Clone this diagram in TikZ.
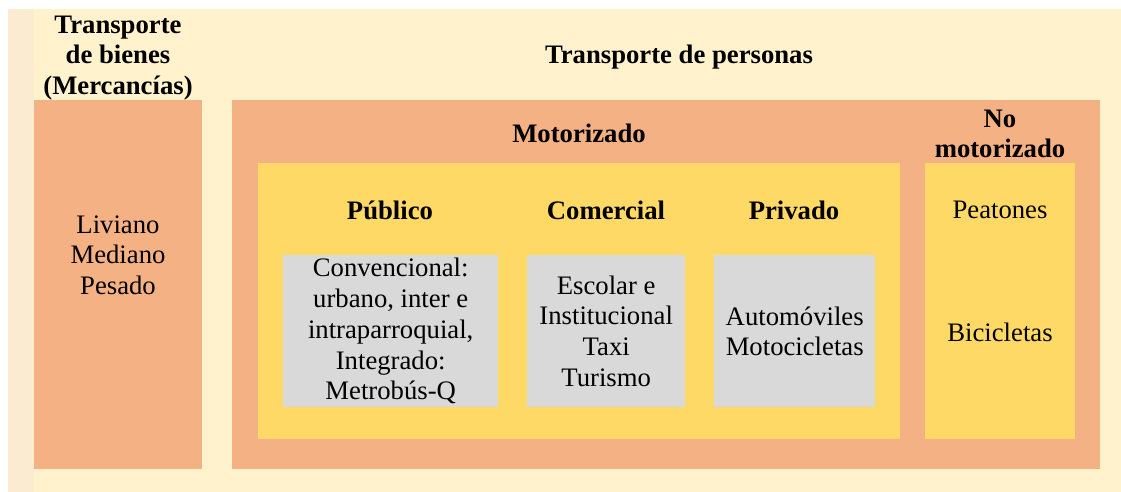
\documentclass[tikz,border=0pt]{standalone}
\usepackage{fontspec}
\setmainfont{Liberation Serif}
\definecolor{crema}{HTML}{FFF2CC}
\definecolor{cremaosc}{HTML}{FBEBD1}
\definecolor{naranja}{HTML}{F4B183}
\definecolor{amarillo}{HTML}{FFD966}
\definecolor{gris}{HTML}{D9D9D9}
\begin{document}
\begin{tikzpicture}[x=1pt,y=-1pt,
    caja/.style={inner sep=0pt,anchor=north west},
    txt/.style={align=center,inner sep=0pt,font=\fontsize{26.7}{30.7}\selectfont},
    tit/.style={txt,font=\fontsize{26.7}{30.7}\selectfont\bfseries}]
  \useasboundingbox (0,0) rectangle (1121,492);
  \fill[white] (0,0) rectangle (1121,492);
  \fill[cremaosc] (8,9) rectangle (34,492);
  \fill[crema] (34,9) rectangle (1121,492);
  % cajas
  \node[caja,fill=naranja,minimum width=168,minimum height=369] (bienes) at (34,100) {};
  \node[caja,fill=naranja,minimum width=868,minimum height=369] (personas) at (232,100) {};
  \node[caja,fill=amarillo,minimum width=642,minimum height=276] (motor) at (258,163) {};
  \node[caja,fill=amarillo,minimum width=150,minimum height=276] (nomotor) at (925,163) {};
  \node[caja,fill=gris,minimum width=215,minimum height=152] (gpub) at (283,255) {};
  \node[caja,fill=gris,minimum width=158,minimum height=152] (gcom) at (527,255) {};
  \node[caja,fill=gris,minimum width=161,minimum height=152] (gpriv) at (714,255) {};
  % titulos
  \node[tit] (tbienes) at (118,58) {Transporte\\de bienes\\(Mercancías)};
  \node[tit] (tpersonas) at (679,57) {Transporte de personas};
  \node[tit] (tmotor) at (579,133) {Motorizado};
  \node[tit] (tnomotor) at (1000,134) {No\\motorizado};
  \node[tit] (tpub) at (390,210) {Público};
  \node[tit] (tcom) at (606,210) {Comercial};
  \node[tit] (tpriv) at (794,210) {Privado};
  % contenidos
  \node[txt] (lbienes) at (118,255) {Liviano\\Mediano\\Pesado};
  \node[txt] (lpub) at (gpub.center) {Convencional:\\urbano, inter e\\intraparroquial,\\Integrado:\\Metrobús-Q};
  \node[txt] (lcom) at (gcom.center) {Escolar e\\Institucional\\Taxi\\Turismo};
  \node[txt] (lpriv) at (gpriv.center) {Automóviles\\Motocicletas};
  \node[txt] (lpeat) at (1000,210) {Peatones};
  \node[txt] (lbici) at (1000,332) {Bicicletas};
\end{tikzpicture}
\end{document}
